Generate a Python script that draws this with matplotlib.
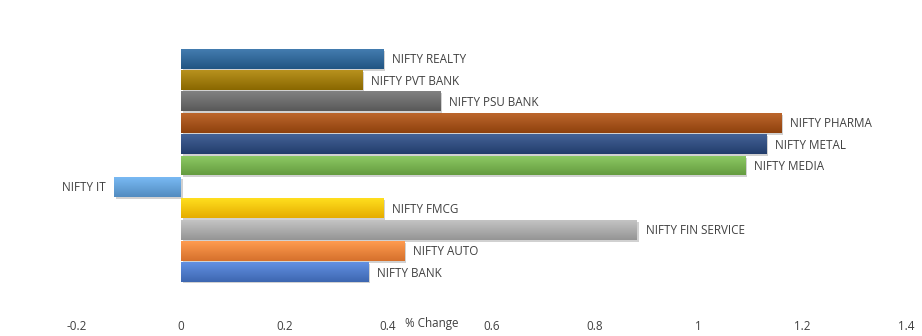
import matplotlib
matplotlib.use("Agg")
import matplotlib.pyplot as plt
import numpy as np
from matplotlib.colors import to_rgb
from matplotlib import transforms

categories = ["NIFTY BANK", "NIFTY AUTO", "NIFTY FIN SERVICE", "NIFTY FMCG", "NIFTY IT",
              "NIFTY MEDIA", "NIFTY METAL", "NIFTY PHARMA", "NIFTY PSU BANK",
              "NIFTY PVT BANK", "NIFTY REALTY"]
values = [0.361, 0.431, 0.880, 0.391, -0.128, 1.090, 1.130, 1.159, 0.500, 0.351, 0.390]
colors = ["#4472C4", "#ED7D31", "#A5A5A5", "#FFC000", "#5B9BD5", "#70AD47",
          "#264478", "#9E480E", "#636363", "#997300", "#255E91"]
xticks = [-0.2, 0, 0.2, 0.4, 0.6, 0.8, 1, 1.2, 1.4]
xlabel = "% Change"

plt.rcParams['font.family'] = ['Open Sans', 'DejaVu Sans']
W, H, DPI = 922, 336, 100
fig = plt.figure(figsize=(W / DPI, H / DPI), dpi=DPI)
left, right, top, bottom = 77, 906, 48, 283
ax = fig.add_axes([left / W, 1 - bottom / H, (right - left) / W, (bottom - top) / H])
ax.set_xlim(-0.2, 1.4)
ax.set_ylim(-0.5, len(categories) - 0.5)

y = np.arange(len(categories))
bh = 0.93
txtc = "#404040"
fs = 8.4

# shadows
shadow_off = transforms.offset_copy(ax.transData, fig=fig, x=2, y=-2, units='dots')
for yi, v in zip(y, values):
    ax.barh(yi, v, height=bh, color="#000000", alpha=0.18, transform=shadow_off, zorder=1, linewidth=0)

bars = ax.barh(y, values, height=bh, color=colors, zorder=2, linewidth=0)
for b, c, yi, v in zip(bars, colors, y, values):
    r, g, bl = to_rgb(c)
    n = 64
    t = np.linspace(0, 1, n)[:, None]
    light = np.array([min(1, r + 0.12), min(1, g + 0.12), min(1, bl + 0.12)])
    dark = np.array([r * 0.9, g * 0.9, bl * 0.9])
    grad = light[None, :] * (1 - t[..., None]) + dark[None, :] * t[..., None]
    grad = np.repeat(grad, 2, axis=1)
    im = ax.imshow(grad, extent=(min(0, v), max(0, v), yi - bh / 2, yi + bh / 2),
                   aspect='auto', origin='upper', zorder=3, interpolation='bilinear')
    im.set_clip_path(b)

for yi, v, name in zip(y, values, categories):
    if v >= 0:
        ax.annotate(name, (v, yi), xytext=(9, -1), textcoords='offset pixels',
                    ha='left', va='center', fontsize=fs, color=txtc, zorder=4)
    else:
        ax.annotate(name, (v, yi), xytext=(-9, -1), textcoords='offset pixels',
                    ha='right', va='center', fontsize=fs, color=txtc, zorder=4)

ax.set_xticks(xticks)
ax.set_xticklabels([f"{t:g}" for t in xticks], fontsize=fs, color=txtc)
ax.tick_params(axis='x', length=0, pad=27)
ax.set_yticks([])
for s in ax.spines.values():
    s.set_visible(False)

ax.text(0.484, 1 - (324 - top) / (bottom - top), xlabel,
        transform=transforms.blended_transform_factory(ax.transData, ax.transAxes),
        ha='center', va='center', fontsize=fs, color=txtc)

fig.savefig("out.png", dpi=DPI, facecolor="white")
